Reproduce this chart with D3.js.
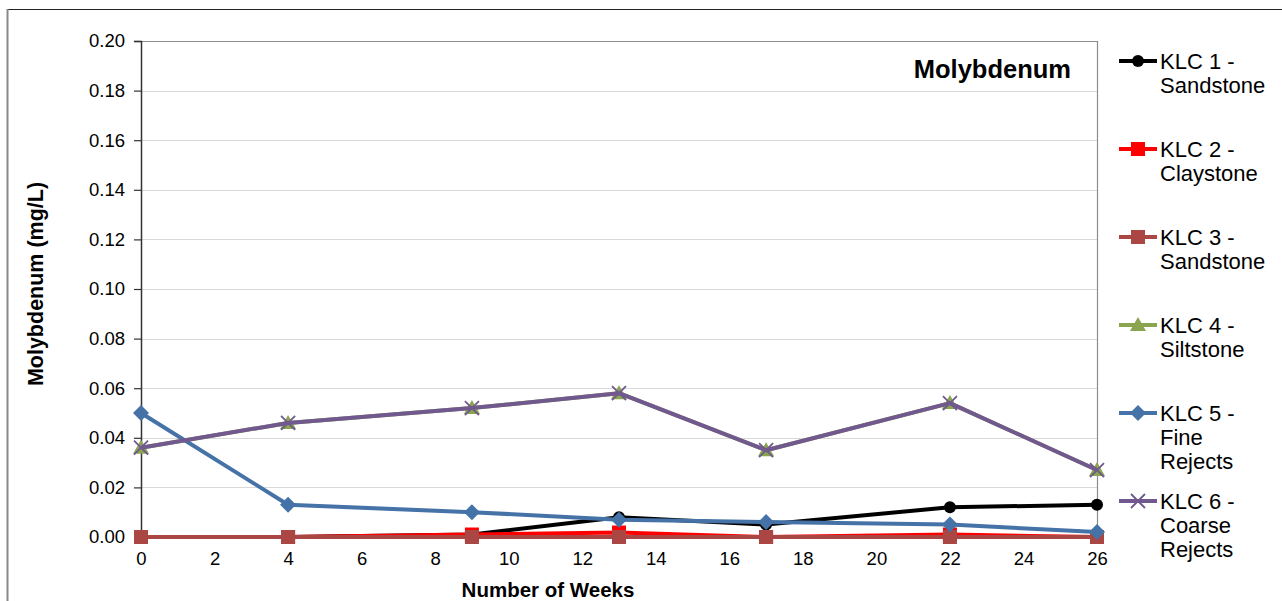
<!DOCTYPE html>
<html><head><meta charset="utf-8">
<script src="https://cdn.jsdelivr.net/npm/d3@7"></script>
<style>body{margin:0;background:#fff;}svg{display:block;font-family:"Liberation Sans",Arial,sans-serif;}</style>
</head><body><svg id="c" width="1282" height="601"></svg>
<script>
const weeks = [0, 4, 9, 13, 17, 22, 26];
const xTicks = [0, 2, 4, 6, 8, 10, 12, 14, 16, 18, 20, 22, 24, 26];
const yTicks = [0, 0.02, 0.04, 0.06, 0.08, 0.10, 0.12, 0.14, 0.16, 0.18, 0.20];
const seriesNames = [["KLC 1 -", "Sandstone"], ["KLC 2 -", "Claystone"], ["KLC 3 -", "Sandstone"], ["KLC 4 -", "Siltstone"], ["KLC 5 -", "Fine", "Rejects"], ["KLC 6 -", "Coarse", "Rejects"]];
const klc1 = [0, 0, 0.001, 0.008, 0.005, 0.012, 0.013];
const klc2 = [0, 0, 0.001, 0.0018, 0, 0.001, 0];
const klc3 = [0, 0, 0, 0, 0, 0, 0];
const klc4 = [0.036, 0.046, 0.052, 0.058, 0.035, 0.054, 0.027];
const klc5 = [0.050, 0.013, 0.010, 0.007, 0.006, 0.005, 0.002];
const klc6 = [0.036, 0.046, 0.052, 0.058, 0.035, 0.054, 0.027];
const values = [klc1, klc2, klc3, klc4, klc5, klc6];
const colors = ["#000000", "#ff0000", "#aa4643", "#89a54e", "#4572a7", "#71588f"];
const markers = ["circle", "square", "square", "triangle", "diamond", "x"];

const svg = d3.select("#c");
const L = 141, R = 1097, T = 41, B = 537;
const x = d3.scaleLinear().domain([0, 26]).range([L, R]);
const y = d3.scaleLinear().domain([0, 0.2]).range([B, T]);
const FONT = "Liberation Sans, Arial, sans-serif";

// outer frame
svg.append("line").attr("x1", 7).attr("x2", 1282).attr("y1", 9.5).attr("y2", 9.5).attr("stroke", "#222").attr("stroke-width", 1);
svg.append("line").attr("x1", 7.5).attr("x2", 7.5).attr("y1", 9).attr("y2", 601).attr("stroke", "#888").attr("stroke-width", 2);

// gridlines
svg.append("g").selectAll("line").data(yTicks.slice(1)).join("line")
  .attr("x1", L).attr("x2", R).attr("y1", d => Math.round(y(d)) + 0.5).attr("y2", d => Math.round(y(d)) + 0.5)
  .attr("stroke", d => d === 0.2 ? "#8c8c8c" : "#d9d9d9").attr("stroke-width", 1.2);
svg.append("line").attr("x1", R + 0.5).attr("x2", R + 0.5).attr("y1", T).attr("y2", B).attr("stroke", "#8c8c8c").attr("stroke-width", 1.2);

// axes
const yAxis = d3.axisLeft(y).tickValues(yTicks).tickFormat(d3.format(".2f")).tickSize(7).tickPadding(9);
const gy = svg.append("g").attr("transform", `translate(${L},0)`).call(yAxis);
gy.attr("font-size", null).attr("font-family", null);
gy.select(".domain").attr("stroke", "#333").attr("stroke-width", 1.5);
gy.selectAll(".tick line").attr("stroke", "#333").attr("stroke-width", 1.2);
gy.selectAll("text").style("font-size", "18.5px").attr("fill", "#000").style("font-family", FONT);

const xAxis = d3.axisBottom(x).tickValues(xTicks).tickSize(0).tickPadding(15);
const gx = svg.append("g").attr("transform", `translate(0,${B})`).call(xAxis);
gx.attr("font-size", null).attr("font-family", null);
gx.select(".domain").attr("stroke", "#333").attr("stroke-width", 1.5);
gx.selectAll("text").style("font-size", "18.5px").attr("fill", "#000").style("font-family", FONT);

// axis titles
svg.append("text").attr("x", 548).attr("y", 597).attr("text-anchor", "middle").style("font-size", "20.5px").attr("font-weight", "bold").text("Number of Weeks");
svg.append("text").attr("transform", "translate(43,284) rotate(-90)").attr("text-anchor", "middle").style("font-size", "21.5px").attr("font-weight", "bold").text("Molybdenum (mg/L)");
svg.append("text").attr("x", 1071).attr("y", 78).attr("text-anchor", "end").style("font-size", "25.5px").attr("font-weight", "bold").text("Molybdenum");

function drawMarker(g, type, cx, cy, color) {
  if (type === "circle") g.append("circle").attr("cx", cx).attr("cy", cy).attr("r", 6).attr("fill", color);
  else if (type === "square") g.append("rect").attr("x", cx - 7).attr("y", cy - 7).attr("width", 14).attr("height", 14).attr("fill", color);
  else if (type === "triangle") g.append("path").attr("d", `M${cx},${cy - 8}L${cx + 8},${cy + 6}L${cx - 8},${cy + 6}Z`).attr("fill", color);
  else if (type === "diamond") g.append("path").attr("d", `M${cx},${cy - 8}L${cx + 8},${cy}L${cx},${cy + 8}L${cx - 8},${cy}Z`).attr("fill", color);
  else if (type === "x") g.append("path").attr("d", `M${cx - 7},${cy - 7}L${cx + 7},${cy + 7}M${cx - 7},${cy + 7}L${cx + 7},${cy - 7}`).attr("stroke", color).attr("stroke-width", 1.8);
}

const line = d3.line().x(d => x(d[0])).y(d => y(d[1]));
values.forEach((vals, i) => {
  const g = svg.append("g");
  const pts = weeks.map((w, j) => [w, vals[j]]);
  g.append("path").attr("d", line(pts)).attr("fill", "none").attr("stroke", colors[i]).attr("stroke-width", 4).attr("stroke-linejoin", "round");
  pts.forEach(p => drawMarker(g, markers[i], x(p[0]), y(p[1]), colors[i]));
});

// legend
const lg = svg.append("g");
seriesNames.forEach((lines, i) => {
  const ly = 61 + i * 88;
  lg.append("line").attr("x1", 1119).attr("x2", 1157).attr("y1", ly).attr("y2", ly).attr("stroke", colors[i]).attr("stroke-width", 4);
  drawMarker(lg, markers[i], 1138, ly, colors[i]);
  const t = lg.append("text").attr("x", 1160).attr("y", ly + 8).style("font-size", "22px").attr("fill", "#000");
  lines.forEach((s, k) => t.append("tspan").attr("x", 1160).attr("dy", k === 0 ? 0 : 24).text(s));
});
</script></body></html>
